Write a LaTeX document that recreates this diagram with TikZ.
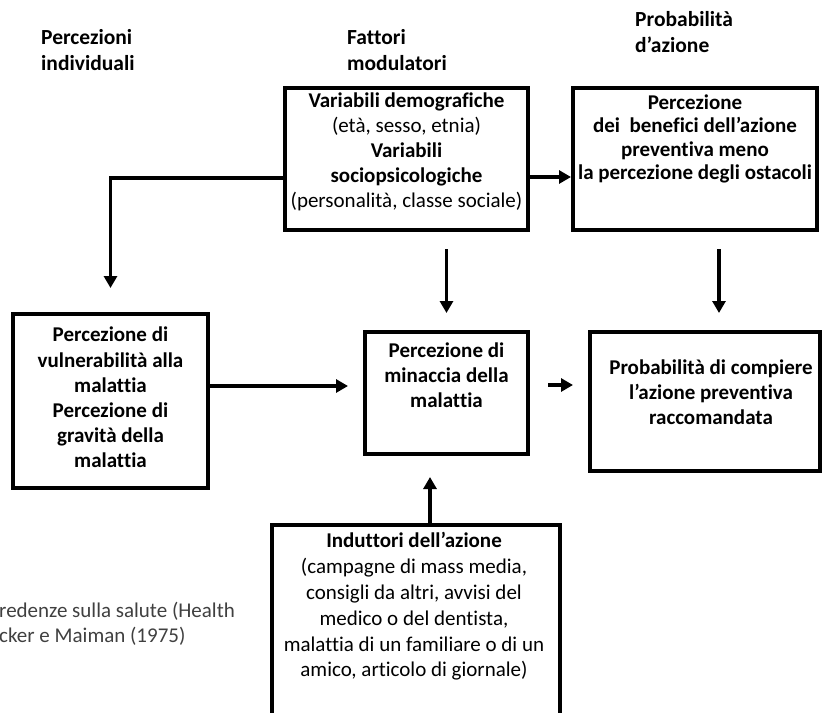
\documentclass[tikz,border=0pt]{standalone}
\usepackage{fontspec}
\setmainfont[Ligatures={NoCommon}]{Carlito}
\usetikzlibrary{arrows.meta,calc}

\tikzset{
  frame/.style={draw=black, line width=4pt, fill=white, inner sep=0pt},
  arr/.style={line width=3.5pt, -{Triangle[width=13pt,length=12pt]}},
  txt/.style={inner sep=0pt, align=center, anchor=north,
    execute at begin node=\strut},
  lbl/.style={inner sep=0pt, align=left, anchor=north west,
    font=\bfseries\fontsize{21.5}{26}\selectfont, execute at begin node=\strut},
}

\begin{document}
\begin{tikzpicture}[x=1pt, y=-1pt]
  \clip (0,0) rectangle (823,713);
  \fill[white] (0,0) rectangle (823,713);

  % column headings
  \node[lbl] (h1) at (41,29) {Percezioni\\individuali};
  \node[lbl] (h2) at (347,29.5) {Fattori\\modulatori};
  \node[lbl] (h3) at (635,11.5) {Probabilità\\d’azione};

  % caption fragment partly hidden behind the bottom box
  \node[inner sep=0pt, align=left, anchor=north west, text=black!75,
        font=\fontsize{21}{25}\selectfont, execute at begin node=\strut]
        (cap) at (-1,601.5) {redenze sulla salute (Health\\cker e Maiman (1975)};

  % boxes
  \node[frame, minimum width=243pt, minimum height=142pt] (A) at (406.5,159) {};
  \node[frame, minimum width=244pt, minimum height=142pt] (B) at (695,159) {};
  \node[frame, minimum width=195pt, minimum height=174pt] (C) at (110.5,401) {};
  \node[frame, minimum width=163pt, minimum height=122pt] (D) at (446.5,393) {};
  \node[frame, minimum width=230pt, minimum height=139pt] (E) at (705,401.5) {};
  \node[frame, minimum width=288pt, minimum height=215pt] (F) at (416,632.5) {};

  % box texts
  \node[txt, font=\fontsize{21}{25}\selectfont] (tA) at (406.5,92.5)
    {\textbf{Variabili demografiche}\\(età, sesso, etnia)\\\textbf{Variabili}\\
     \textbf{sociopsicologiche}\\(personalità, classe sociale)};
  \node[txt, font=\bfseries\fontsize{21}{23.5}\selectfont] (tB) at (695,94.5)
    {Percezione\\dei\ \ benefici dell’azione\\preventiva meno\\la percezione degli ostacoli};
  \node[txt, font=\bfseries\fontsize{21}{25.2}\selectfont] (tC) at (110.5,327)
    {Percezione di\\vulnerabilità alla\\malattia\\Percezione di\\gravità della\\malattia};
  \node[txt, font=\bfseries\fontsize{21}{25}\selectfont] (tD) at (446.5,342.5)
    {Percezione di\\minaccia della\\malattia};
  \node[txt, font=\bfseries\fontsize{21}{25}\selectfont] (tE) at (711,359.5)
    {Probabilità di compiere\\l’azione preventiva\\raccomandata};
  \node[txt, font=\fontsize{21}{25.8}\selectfont] (tF) at (414,532.5)
    {\textbf{Induttori dell’azione}\\(campagne di mass media,\\consigli da altri, avvisi del\\
     medico o del dentista,\\malattia di un familiare o di un\\amico, articolo di giornale)};

  % connectors
  \draw[arr] ([yshift=-18pt]A.east) -- ([yshift=-18pt]B.west);
  \draw[arr, shorten >=24pt] ([yshift=-19pt]A.west) -| (C.north);
  \draw[arr, shorten <=17pt, shorten >=17pt] (D.north |- A.south) -- (D.north);
  \draw[arr, shorten <=17pt, shorten >=17pt] ([xshift=24pt]B.south) -- ([xshift=24pt]B.south |- E.north);
  \draw[arr, shorten >=15pt] ([yshift=15pt]C.east) -- ([yshift=15pt]C.east -| D.west);
  \draw[arr, shorten <=18pt, shorten >=15pt] ([yshift=8pt]D.east) -- ([yshift=8pt]D.east -| E.west);
  \draw[arr, shorten >=21pt] ([xshift=14pt]F.north) -- ([xshift=14pt]F.north |- D.south);
\end{tikzpicture}
\end{document}
